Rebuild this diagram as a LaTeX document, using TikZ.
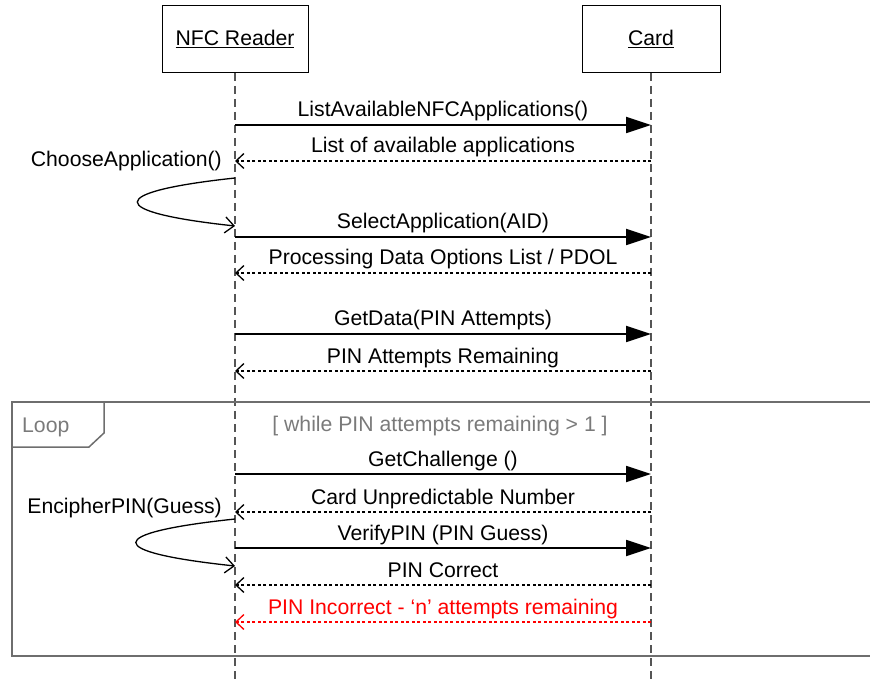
\documentclass[tikz,border=0pt]{standalone}
\usepackage{fontspec}
\setmainfont{Liberation Sans}
\usetikzlibrary{arrows.meta}
\definecolor{lifegrey}{HTML}{555555}
\definecolor{framegrey}{HTML}{6E6E6E}
\definecolor{guardgrey}{HTML}{7A7A7A}
\tikzset{
  actorbox/.style={draw=black, line width=1pt, minimum width=146pt, minimum height=67pt, inner sep=0pt, font=\fontsize{21.2}{25}\selectfont},
  lifeline/.style={draw=lifegrey, line width=1.5pt, dash pattern=on 8pt off 5pt},
  callmsg/.style={draw=black, line width=1.8pt, -{Triangle[length=25pt,width=16pt]}},
  retmsg/.style={draw=black, line width=1.5pt, dash pattern=on 3pt off 2.5pt, -{Straight Barb[length=8pt,width=15pt,line width=1.3pt]}},
  redmsg/.style={retmsg, draw=red},
  selfmsg/.style={draw=black, line width=1.3pt, -{Straight Barb[length=9pt,width=16pt,line width=1.3pt]}},
  msglabel/.style={anchor=base, inner sep=0pt, font=\fontsize{21.2}{25}\selectfont},
  selflabel/.style={anchor=base east, inner sep=0pt, font=\fontsize{21.2}{25}\selectfont},
  loopframe/.style={draw=framegrey, line width=1.5pt},
}
\begin{document}
\begin{tikzpicture}[x=1pt,y=-1pt]
\useasboundingbox (0,0) rectangle (870,684);
% actors
\node[actorbox, minimum width=146pt] (reader) at (235,39) {\underline{NFC Reader}};
\node[actorbox, minimum width=138pt] (card) at (651,39) {\underline{Card}};
\coordinate (readerEnd) at (235,690);
\coordinate (cardEnd) at (651,690);
\draw[lifeline] (reader.south) -- (readerEnd);
\draw[lifeline] (card.south) -- (cardEnd);

% loop frame
\coordinate (fTL) at (12,402);
\coordinate (fBR) at (880,656);
\draw[loopframe] (fTL) rectangle (fBR);
\coordinate (tabA) at (104,402);
\coordinate (tabB) at (104,433);
\coordinate (tabC) at (89,447);
\coordinate (tabD) at (12,447);
\draw[loopframe] (tabA) -- (tabB) -- (tabC) -- (tabD);
\node[anchor=base west, inner sep=0pt, text=guardgrey, font=\fontsize{21.2}{25}\selectfont] (looplbl) at (22,432) {Loop};
\node[anchor=base, inner sep=0pt, text=guardgrey, font=\fontsize{21.2}{25}\selectfont] (guard) at (440,431) {[ while PIN attempts remaining > 1 ]};

% message endpoints
\foreach \n/\y in {1/125,2/161,4/237,5/273,6/334,7/371,8/474,9/512,11/548,12/585,13/622}{
  \coordinate (r\n) at (235,\y);
  \coordinate (c\n) at (651,\y);
}
\coordinate (s3a) at (235,178);
\coordinate (s3b) at (235,226);
\coordinate (s10a) at (235,519);
\coordinate (s10b) at (235,566);

% messages
\draw[callmsg] (r1) -- (c1);
\node[msglabel] (m1) at (443,117) {ListAvailableNFCApplications()};
\draw[retmsg] (c2) -- (r2);
\node[msglabel] (m2) at (443,153) {List of available applications};

\draw[selfmsg] (s3a) .. controls (105,192) and (105,212) .. (s3b);
\node[selflabel] (m3) at (222,167) {ChooseApplication()};

\draw[callmsg] (r4) -- (c4);
\node[msglabel] (m4) at (443,229) {SelectApplication(AID)};
\draw[retmsg] (c5) -- (r5);
\node[msglabel] (m5) at (443,265) {Processing Data Options List / PDOL};

\draw[callmsg] (r6) -- (c6);
\node[msglabel] (m6) at (443,326) {GetData(PIN Attempts)};
\draw[retmsg] (c7) -- (r7);
\node[msglabel] (m7) at (443,363) {PIN Attempts Remaining};

\draw[callmsg] (r8) -- (c8);
\node[msglabel] (m8) at (443,466) {GetChallenge ()};
\draw[retmsg] (c9) -- (r9);
\node[msglabel] (m9) at (443,504) {Card Unpredictable Number};

\draw[selfmsg] (s10a) .. controls (103,533) and (103,552) .. (s10b);
\node[selflabel] (m10) at (222,513) {EncipherPIN(Guess)};

\draw[callmsg] (r11) -- (c11);
\node[msglabel] (m11) at (443,540) {VerifyPIN (PIN Guess)};
\draw[retmsg] (c12) -- (r12);
\node[msglabel] (m12) at (443,577) {PIN Correct};
\draw[redmsg] (c13) -- (r13);
\node[msglabel, text=red] (m13) at (443,614) {PIN Incorrect - ‘n’ attempts remaining};
\end{tikzpicture}
\end{document}
